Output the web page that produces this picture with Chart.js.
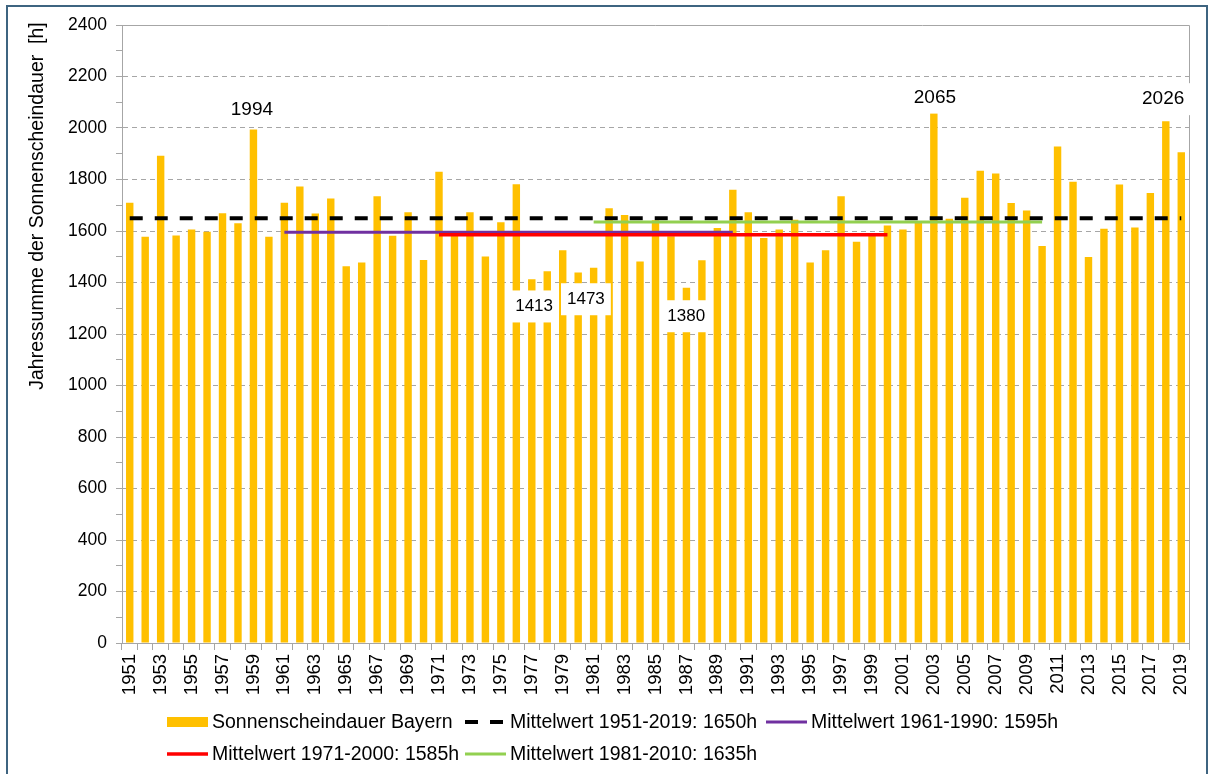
<!DOCTYPE html>
<html>
<head>
  <title>Sonnenscheindauer Bayern</title>
  <style>
    body {
      margin: 0;
      background: #fff;
    }
    #chart {
      display: block;
    }
  </style>
</head>
<body>
  <canvas id="chart" width="1208" height="774"></canvas>

  <script src="https://cdn.jsdelivr.net/npm/chart.js@4.4.1/dist/chart.umd.min.js"></script>

  <script>
    // categories (years)
    const years = [
      '1951', '1952', '1953', '1954', '1955', '1956', '1957', '1958', '1959', '1960',
      '1961', '1962', '1963', '1964', '1965', '1966', '1967', '1968', '1969', '1970',
      '1971', '1972', '1973', '1974', '1975', '1976', '1977', '1978', '1979', '1980',
      '1981', '1982', '1983', '1984', '1985', '1986', '1987', '1988', '1989', '1990',
      '1991', '1992', '1993', '1994', '1995', '1996', '1997', '1998', '1999', '2000',
      '2001', '2002', '2003', '2004', '2005', '2006', '2007', '2008', '2009', '2010',
      '2011', '2012', '2013', '2014', '2015', '2016', '2017', '2018', '2019'
    ];

    // yearly sunshine hours
    const sunshineHours = [
      1710, 1578, 1892, 1583, 1606, 1597, 1669, 1630, 1994, 1578,
      1710, 1773, 1668, 1726, 1463, 1478, 1735, 1582, 1673, 1487,
      1830, 1590, 1673, 1501, 1634, 1782, 1413, 1444, 1525, 1439,
      1457, 1688, 1662, 1482, 1642, 1580, 1380, 1486, 1612, 1760,
      1673, 1573, 1606, 1644, 1478, 1525, 1735, 1558, 1590, 1621,
      1606, 1632, 2065, 1648, 1729, 1834, 1823, 1709, 1680, 1542,
      1928, 1791, 1499, 1609, 1781, 1614, 1748, 2026, 1906
    ];

    // mean lines
    const meanLabels = [
      'Mittelwert 1951-2019: 1650h',
      'Mittelwert 1961-1990: 1595h',
      'Mittelwert 1971-2000: 1585h',
      'Mittelwert 1981-2010: 1635h'
    ];
    const meanValues = [1650, 1595, 1585, 1635];
    const meanFrom = ['1951', '1961', '1971', '1981'];
    const meanTo = ['2019', '1990', '2000', '2010'];

    // y axis ticks
    const yMin = 0;
    const yMax = 2400;
    const yStep = 200;

    // value labels written into the chart
    const noteTexts = ['1994', '2065', '2026', '1413', '1473', '1380'];

    const FONT = 'Arial, "Liberation Sans", sans-serif';
    const meanColors = ['#000000', '#7030A0', '#FF0000', '#92D050'];
    const meanWidths = [4, 3, 3.5, 3];
    const meanDash = [[13, 12], [], [], []];

    function meanSeries(k) {
      const a = years.indexOf(meanFrom[k]);
      const b = years.indexOf(meanTo[k]);
      return years.map((y, i) => (i >= a && i <= b) ? meanValues[k] : null);
    }

    const datasets = [{
      type: 'bar',
      label: 'Sonnenscheindauer Bayern',
      data: sunshineHours,
      backgroundColor: '#FFC000',
      barPercentage: 0.48,
      categoryPercentage: 1,
      order: 10
    }];
    meanLabels.forEach((label, k) => {
      datasets.push({
        type: 'line',
        label: label,
        data: meanSeries(k),
        borderColor: meanColors[k],
        borderWidth: meanWidths[k],
        borderDash: meanDash[k],
        borderCapStyle: 'butt',
        pointRadius: 0,
        fill: false,
        tension: 0,
        order: 4 - k
      });
    });

    // where the notes sit: category position and value height
    const notePlaces = [
      { x: 7.9, y: 2071, size: 19 },
      { x: 52.07, y: 2118, size: 19 },
      { x: 66.83, y: 2112, size: 19 },
      { x: 26.15, y: 1307, size: 17 },
      { x: 29.5, y: 1335, size: 17 },
      { x: 35.99, y: 1269, size: 17 }
    ];

    // legend grid
    const legendCols = [167, 465, 766];
    const legendRows = [722, 754];
    const legendSlots = [[0, 0], [0, 1], [0, 2], [1, 0], [1, 1]];

    const extrasPlugin = {
      id: 'extras',
      afterDraw(chart) {
        const ctx = chart.ctx;
        const area = chart.chartArea;
        const xs = chart.scales.x;
        const ys = chart.scales.y;

        ctx.save();
        // plot frame top / right
        ctx.strokeStyle = '#a6a6a6';
        ctx.lineWidth = 1;
        ctx.beginPath();
        ctx.moveTo(area.left, area.top + 0.5);
        ctx.lineTo(area.right + 0.5, area.top + 0.5);
        ctx.lineTo(area.right + 0.5, area.bottom);
        ctx.stroke();

        // outer frame
        ctx.strokeStyle = '#3e6480';
        ctx.lineWidth = 2;
        ctx.beginPath();
        ctx.moveTo(7, 774);
        ctx.lineTo(7, 6);
        ctx.lineTo(1207, 6);
        ctx.lineTo(1207, 774);
        ctx.stroke();

        // notes
        ctx.textAlign = 'center';
        ctx.textBaseline = 'middle';
        noteTexts.forEach((t, i) => {
          const p = notePlaces[i];
          const px = xs.getPixelForValue(p.x);
          const py = ys.getPixelForValue(p.y);
          ctx.font = p.size + 'px ' + FONT;
          const w = ctx.measureText(t).width;
          ctx.fillStyle = '#ffffff';
          ctx.fillRect(px - w / 2 - 6, py - 16, w + 12, 32);
          ctx.fillStyle = '#000000';
          ctx.fillText(t, px, py);
        });

        // y axis title
        ctx.save();
        ctx.translate(38, 206);
        ctx.rotate(-Math.PI / 2);
        ctx.font = '19.5px ' + FONT;
        ctx.fillStyle = '#000000';
        ctx.fillText('Jahressumme der Sonnenscheindauer  [h]', 0, 0);
        ctx.restore();

        // legend
        ctx.font = '19.5px ' + FONT;
        ctx.textAlign = 'left';
        ctx.textBaseline = 'middle';
        chart.data.datasets.forEach((ds, i) => {
          const slot = legendSlots[i];
          const x = legendCols[slot[1]];
          const y = legendRows[slot[0]];
          if (ds.type === 'bar') {
            ctx.fillStyle = ds.backgroundColor;
            ctx.fillRect(x, y - 5, 41, 10);
          } else {
            ctx.strokeStyle = ds.borderColor;
            ctx.lineWidth = ds.borderWidth;
            ctx.setLineDash(ds.borderDash);
            ctx.beginPath();
            ctx.moveTo(x, y);
            ctx.lineTo(x + 41, y);
            ctx.stroke();
            ctx.setLineDash([]);
          }
          ctx.fillStyle = '#000000';
          ctx.fillText(ds.label, x + 45, y + 1);
        });
        ctx.restore();
      }
    };

    const ctx = document.getElementById('chart').getContext('2d');
    window.myChart = new Chart(ctx, {
      type: 'bar',
      data: {
        labels: years,
        datasets: datasets
      },
      options: {
        responsive: false,
        animation: false,
        layout: {
          padding: { left: 0, right: 19, top: 25, bottom: 71 }
        },
        plugins: {
          legend: { display: false },
          tooltip: { enabled: false }
        },
        scales: {
          x: {
            afterFit: (scale) => { scale.height = 60; },
            grid: {
              offset: true,
              drawOnChartArea: false,
              tickLength: 7,
              color: '#a6a6a6'
            },
            border: { color: '#a6a6a6' },
            ticks: {
              autoSkip: false,
              minRotation: 90,
              maxRotation: 90,
              padding: 4,
              color: '#000000',
              font: { family: FONT, size: 18.5 },
              callback: (v, i) => (i % 2 === 0 ? years[i] : '')
            }
          },
          y: {
            min: yMin,
            max: yMax,
            afterFit: (scale) => { scale.width = 122; },
            grid: {
              color: (c) => {
                const v = c.tick ? c.tick.value : 0;
                return (v % yStep === 0 && v > yMin && v < yMax) ? '#a6a6a6' : 'rgba(0,0,0,0)';
              },
              tickColor: '#a6a6a6',
              tickLength: 6
            },
            border: { color: '#a6a6a6', dash: [5, 4] },
            ticks: {
              stepSize: yStep / 2,
              autoSkip: false,
              padding: 9,
              color: '#000000',
              font: { family: FONT, size: 17.5 },
              callback: (v) => (v % yStep === 0 ? v : '')
            }
          }
        }
      },
      plugins: [extrasPlugin]
    });
  </script>
</body>
</html>
